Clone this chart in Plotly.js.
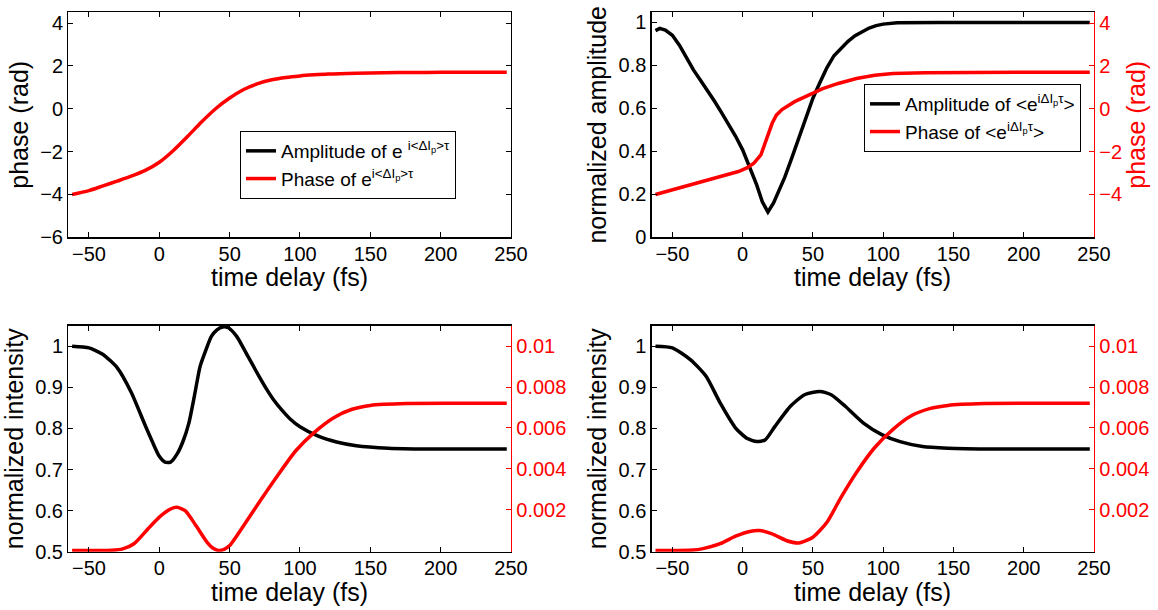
<!DOCTYPE html>
<html>
<head>
<meta charset="utf-8">
<script src="https://cdn.plot.ly/plotly-3.0.1.min.js"></script>
<style>html,body{margin:0;padding:0;background:#fff;}#chart{width:1158px;height:610px;}</style>
</head>
<body>
<div id="chart"></div>
<script>
// ---------- data ----------
const xTicks = [-50, 0, 50, 100, 150, 200, 250];

// panel 1: phase of e^{i<ΔIp>τ}
const t1 = [-62,-50,-40,-30,-20,-10,0,10,20,30,40,50,60,70,80,90,100,110,120,140,160,180,200,220,247];
const phase1 = [-4.0,-3.82,-3.6,-3.38,-3.15,-2.88,-2.5,-1.95,-1.3,-0.62,0.0,0.5,0.9,1.17,1.35,1.46,1.53,1.58,1.62,1.66,1.68,1.69,1.7,1.7,1.7];

// panel 2: amplitude and phase of <e^{iΔIpτ}>
const t2a = [-62,-59,-55,-50,-45,-40,-35,-30,-25,-20,-15,-10,-5,0,5,10,14,18,22,26,30,35,40,45,50,55,60,65,70,75,80,85,90,95,100,110,120,140,170,200,247];
const amp2 = [0.962,0.972,0.964,0.94,0.894,0.834,0.779,0.731,0.684,0.633,0.58,0.525,0.47,0.407,0.325,0.244,0.165,0.118,0.16,0.22,0.28,0.37,0.466,0.557,0.647,0.72,0.79,0.845,0.877,0.912,0.938,0.958,0.974,0.985,0.992,0.998,1.0,1.0,1.0,1.0,1.0];
const t2p = [-62,-50,-37,-24,-10,-3,3,8,13,17,21,24,28,37,47,57,68,81,94,107,130,160,200,247];
const phase2 = [-4.0,-3.78,-3.54,-3.31,-3.08,-2.93,-2.76,-2.54,-2.15,-1.46,-0.68,-0.3,-0.04,0.33,0.63,0.94,1.18,1.41,1.56,1.64,1.68,1.7,1.7,1.7];

// panel 3
const t3 = [-62,-50,-40,-30,-20,-10,-5,0,4,8,13,17,21,25,29,33,37,41,45,49,55,60,66,71,76,82,87,93,100,113,126,140,163,190,220,247];
const int3 = [1.0,0.996,0.98,0.948,0.888,0.807,0.768,0.732,0.718,0.718,0.74,0.77,0.813,0.88,0.951,0.99,1.024,1.04,1.047,1.045,1.024,0.994,0.957,0.926,0.897,0.866,0.845,0.823,0.804,0.781,0.767,0.758,0.752,0.75,0.75,0.75];
const t3r = [-62,-45,-34,-26,-18,-8,0,8,12.6,18.4,26,34,38,42,46,50,60,71,84,97,110,124,137,150,176,210,247];
const red3 = [0,0,0.00001,0.00008,0.00033,0.00106,0.00163,0.00203,0.00211,0.00195,0.00122,0.0004,0.00012,0.0,0.00005,0.00024,0.00122,0.00236,0.00366,0.00488,0.00577,0.0065,0.00691,0.0071,0.00719,0.0072,0.0072];

// panel 4
const t4 = [-62,-50,-37,-26,-16,-5,3,10,16,23,34,44,55,63,73,86,99,112,128,146,180,247];
const int4 = [1.0,0.996,0.967,0.927,0.862,0.801,0.776,0.768,0.772,0.805,0.854,0.882,0.89,0.882,0.854,0.813,0.785,0.768,0.756,0.752,0.75,0.75];
const t4r = [-62,-45,-35,-29,-16,-5,5,12,21,31,40,50,60,70,81,94,107,120,133,146,172,210,247];
const red4 = [0,0,0.00002,0.00008,0.00033,0.0007,0.00093,0.00098,0.00081,0.00049,0.00037,0.00065,0.00138,0.0026,0.00382,0.00504,0.00593,0.00659,0.00694,0.0071,0.00719,0.0072,0.0072];

// tick labels
const xLabels = ['\u221250','0','50','100','150','200','250'];
const phaseTicks = [-6,-4,-2,0,2,4];
const phaseLabels = ['\u22126','\u22124','\u22122','0','2','4'];
const phaseTicksR = [-4,-2,0,2,4];
const phaseLabelsR = ['\u22124','\u22122','0','2','4'];
const ampTicks = [0,0.2,0.4,0.6,0.8,1];
const ampLabels = ['0','0.2','0.4','0.6','0.8','1'];
const intTicks = [0.5,0.6,0.7,0.8,0.9,1];
const intLabels = ['0.5','0.6','0.7','0.8','0.9','1'];
const rTicks = [0.002,0.004,0.006,0.008,0.01];
const rLabels = ['0.002','0.004','0.006','0.008','0.01'];

// text
const xTitle = 'time delay (fs)';
const leg1Amp = 'Amplitude of e <sup>i&lt;ΔI<sub>p</sub>&gt;τ</sup>';
const leg1Ph = 'Phase of e<sup>i&lt;ΔI<sub>p</sub>&gt;τ</sup>';
const leg2Amp = 'Amplitude of &lt;e<sup>iΔI<sub>p</sub>τ</sup>&gt;';
const leg2Ph = 'Phase of &lt;e<sup>iΔI<sub>p</sub>τ</sup>&gt;';

// ---------- styling ----------
const FONT = 'Liberation Sans, Arial, Helvetica, sans-serif';
const BLACK = '#000000', RED = '#ff0000';
const LW = 3.5;
const W = 1158, H = 610;
const dx = (a,b) => [a/W, b/W];
const dy = (top,bot) => [1-bot/H, 1-top/H];

const colL = dx(68.3, 511), colR = dx(651.7, 1094);
const rowT = dy(12.3, 237.3), rowB = dy(325.7, 551.7);

function xax(domain, anchor) {
  return {
    domain: domain, anchor: anchor, range: [-64.7, 250],
    tickmode: 'array', tickvals: xTicks, ticktext: xLabels,
    ticks: 'inside', ticklen: 5, tickwidth: 1, tickcolor: BLACK, ticklabelstandoff: -2,
    showline: true, linecolor: BLACK, linewidth: 1.3, mirror: 'ticks',
    showgrid: false, zeroline: false,
    tickfont: {family: FONT, size: 20, color: BLACK}
  };
}
function yax(domain, anchor, range, vals, labels, title, mirror) {
  return {
    domain: domain, anchor: anchor, range: range,
    tickmode: 'array', tickvals: vals, ticktext: labels,
    ticks: 'inside', ticklen: 5, tickwidth: 1, tickcolor: BLACK,
    showline: true, linecolor: BLACK, linewidth: 1.3, mirror: mirror,
    showgrid: false, zeroline: false,
    tickfont: {family: FONT, size: 20, color: BLACK},
    title: {text: title, font: {family: FONT, size: 25, color: BLACK}, standoff: 4}
  };
}
function yaxR(anchor, overlay, range, vals, labels, title) {
  return {
    overlaying: overlay, anchor: anchor, side: 'right', range: range,
    tickmode: 'array', tickvals: vals, ticktext: labels,
    ticks: 'inside', ticklen: 5, tickwidth: 1, tickcolor: RED,
    showline: true, linecolor: RED, linewidth: 1.3,
    showgrid: false, zeroline: false,
    tickfont: {family: FONT, size: 20, color: RED},
    title: {text: title, font: {family: FONT, size: 25, color: RED}, standoff: 4}
  };
}
function xTitleAnn(xa, ya) {
  return {
    text: xTitle, xref: xa + ' domain', yref: ya + ' domain', x: 0.5, y: 0,
    xanchor: 'center', yanchor: 'middle', yshift: -40, showarrow: false,
    font: {family: FONT, size: 25, color: BLACK}
  };
}

const data = [
  // panel 1
  {x: [null], y: [null], xaxis: 'x', yaxis: 'y', type: 'scatter', mode: 'lines', name: leg1Amp,
   line: {color: BLACK, width: LW}, legend: 'legend'},
  {x: t1, y: phase1, xaxis: 'x', yaxis: 'y', type: 'scatter', mode: 'lines', name: leg1Ph,
   line: {color: RED, width: LW, shape: 'spline', smoothing: 0.8}, legend: 'legend'},
  // panel 2
  {x: t2a, y: amp2, xaxis: 'x2', yaxis: 'y2', type: 'scatter', mode: 'lines', name: leg2Amp,
   line: {color: BLACK, width: LW}, legend: 'legend2'},
  {x: t2p, y: phase2, xaxis: 'x2', yaxis: 'y3', type: 'scatter', mode: 'lines', name: leg2Ph,
   line: {color: RED, width: LW}, legend: 'legend2'},
  // panel 3
  {x: t3, y: int3, xaxis: 'x3', yaxis: 'y4', type: 'scatter', mode: 'lines', showlegend: false,
   line: {color: BLACK, width: LW, shape: 'spline', smoothing: 0.6}},
  {x: t3r, y: red3, xaxis: 'x3', yaxis: 'y5', type: 'scatter', mode: 'lines', showlegend: false,
   line: {color: RED, width: LW, shape: 'spline', smoothing: 0.6}},
  // panel 4
  {x: t4, y: int4, xaxis: 'x4', yaxis: 'y6', type: 'scatter', mode: 'lines', showlegend: false,
   line: {color: BLACK, width: LW, shape: 'spline', smoothing: 0.6}},
  {x: t4r, y: red4, xaxis: 'x4', yaxis: 'y7', type: 'scatter', mode: 'lines', showlegend: false,
   line: {color: RED, width: LW, shape: 'spline', smoothing: 0.6}}
];

const legendBase = {
  xanchor: 'left', yanchor: 'top', bgcolor: '#ffffff', bordercolor: BLACK, borderwidth: 1,
  font: {family: FONT, size: 19, color: BLACK}, itemwidth: 30, tracegroupgap: 0
};

const layout = {
  width: W, height: H,
  margin: {l: 0, r: 0, t: 0, b: 0},
  paper_bgcolor: '#ffffff', plot_bgcolor: '#ffffff',
  font: {family: FONT, color: BLACK},
  xaxis: xax(colL, 'y'),
  yaxis: yax(rowT, 'x', [-6, 4.5], phaseTicks, phaseLabels, 'phase (rad)', 'ticks'),
  xaxis2: xax(colR, 'y2'),
  yaxis2: yax(rowT, 'x2', [0, 1.047], ampTicks, ampLabels, 'normalized amplitude', false),
  yaxis3: yaxR('x2', 'y2', [-6, 4.5], phaseTicksR, phaseLabelsR, 'phase (rad)'),
  xaxis3: xax(colL, 'y4'),
  yaxis4: yax(rowB, 'x3', [0.5, 1.05], intTicks, intLabels, 'normalized intensity', false),
  yaxis5: yaxR('x3', 'y4', [-0.00006, 0.011], rTicks, rLabels, ''),
  xaxis4: xax(colR, 'y6'),
  yaxis6: yax(rowB, 'x4', [0.5, 1.05], intTicks, intLabels, 'normalized intensity', false),
  yaxis7: yaxR('x4', 'y6', [-0.00006, 0.011], rTicks, rLabels, ''),
  annotations: [xTitleAnn('x', 'y'), xTitleAnn('x2', 'y2'), xTitleAnn('x3', 'y4'), xTitleAnn('x4', 'y6')],
  legend: Object.assign({}, legendBase, {x: 240/W, y: 1-131/H}),
  legend2: Object.assign({}, legendBase, {x: 864/W, y: 1-84/H}),
  showlegend: true
};

Plotly.newPlot('chart', data, layout, {staticPlot: true, displayModeBar: false});
</script>
</body>
</html>
